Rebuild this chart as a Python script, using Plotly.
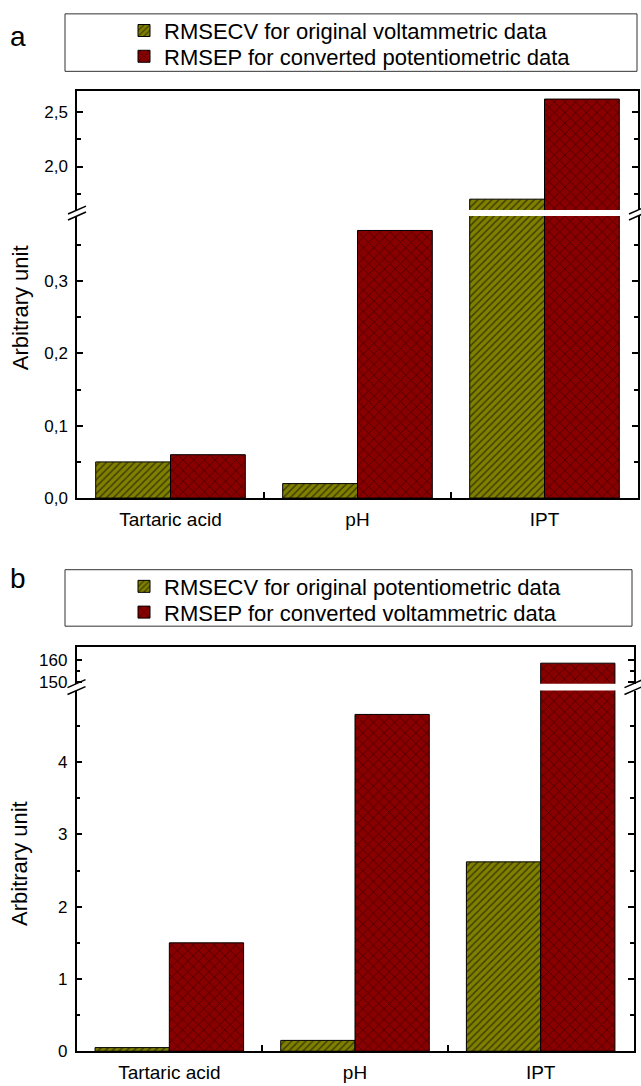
import plotly.graph_objects as go

categories = ["Tartaric acid", "pH", "IPT"]

# Panel a
a_rmsecv = [0.05, 0.02, 1.70]
a_rmsep = [0.06, 0.37, 2.62]
a_names = ["RMSECV for original voltammetric data", "RMSEP for converted potentiometric data"]

# Panel b
b_rmsecv = [0.05, 0.15, 2.62]
b_rmsep = [1.50, 4.66, 158.7]
b_names = ["RMSECV for original potentiometric data", "RMSEP for converted voltammetric data"]

W, H = 641, 1086
OLIVE = "#808000"
MAROON = "#880000"
FONT = "Liberation Sans, Arial, sans-serif"


def px(xp):
    return xp / W


def py(yp):
    return 1 - yp / H


fig = go.Figure()


def add_panel(vals1, vals2, names, xu, yu, xl, yl, legends):
    for vals, name, color, shape, size, sol, leg in [
        (vals1, names[0], OLIVE, "/", 5, 0.3, legends[0]),
        (vals2, names[1], MAROON, "x", 7.5, 0.18, legends[1]),
    ]:
        for xa, ya, show in [(xu, yu, False), (xl, yl, True)]:
            fig.add_trace(go.Bar(
                x=categories, y=vals, name=name, xaxis=xa, yaxis=ya,
                showlegend=show, legend=leg, legendgroup=leg,
                marker=dict(color=color, line=dict(color="black", width=1),
                            pattern=dict(shape=shape, size=size, solidity=sol,
                                         fgcolor="black", bgcolor=color,
                                         fillmode="overlay")),
            ))


add_panel(a_rmsecv, a_rmsep, a_names, "x", "y", "x2", "y2", ("legend", "legend2"))
add_panel(b_rmsecv, b_rmsep, b_names, "x3", "y3", "x4", "y4", ("legend3", "legend4"))

LW = 1.5
tickfont = dict(family=FONT, size=17, color="black")
common_y = dict(showline=True, linecolor="black", linewidth=LW, ticks="inside",
                ticklen=6, tickwidth=LW, tickcolor="black", mirror="ticks",
                showgrid=False, zeroline=False, tickfont=tickfont, tickformat=".1f",
                ticklabelstandoff=4)
common_x_top = dict(type="category", categoryarray=categories, range=[-0.5, 2.5],
                    side="top", showline=True, linecolor="black", linewidth=LW,
                    ticks="", showticklabels=False, showgrid=False, zeroline=False)
common_x_bot = dict(type="category", categoryarray=categories, range=[-0.5, 2.5],
                    side="bottom", showline=True, linecolor="black", linewidth=LW,
                    ticks="inside", ticklen=6, tickwidth=LW, tickcolor="black",
                    tickson="boundaries", showgrid=False, zeroline=False,
                    ticklabelstandoff=3,
                    tickfont=dict(family=FONT, size=19, color="black"))
tick_overlay = dict(type="linear", range=[-0.5, 2.5], side="top", showline=False,
                    tickvals=[0, 0.5, 1, 1.5, 2], ticks="inside", ticklen=6,
                    tickwidth=LW, tickcolor="black", showticklabels=False,
                    showgrid=False, zeroline=False)

# pixel geometry
A_L, A_R = 77, 638
A_UT, A_UB, A_LT, A_LB = 92.3, 212, 218, 502.7
B_L, B_R = 76.5, 633.5
B_UT, B_UB, B_LT, B_LB = 653.3, 690, 697, 1061

fig.update_layout(
    xaxis=dict(domain=[px(A_L), px(A_R)], anchor="y", **common_x_top),
    yaxis=dict(domain=[py(A_UB), py(A_UT)], anchor="x", range=[1.6, 2.69],
               dtick=0.5, tick0=0,
               minor=dict(dtick=0.25, ticks="inside", ticklen=4, tickwidth=LW, tickcolor="black"),
               **common_y),
    xaxis2=dict(domain=[px(A_L), px(A_R)], anchor="y2", **common_x_bot),
    yaxis2=dict(domain=[py(A_LB), py(A_LT)], anchor="x2", range=[0, 0.39],
                dtick=0.1, tick0=0,
                minor=dict(dtick=0.05, ticks="inside", ticklen=4, tickwidth=LW, tickcolor="black"),
                **common_y),
    xaxis3=dict(domain=[px(B_L), px(B_R)], anchor="y3", **common_x_top),
    yaxis3=dict(domain=[py(B_UB), py(B_UT)], anchor="x3", range=[149.3, 166],
                tickmode="array", tickvals=[150, 160],
                minor=dict(tickmode="array", tickvals=[155], ticks="inside", ticklen=4,
                           tickwidth=LW, tickcolor="black"),
                **{**common_y, "tickformat": "d"}),
    xaxis4=dict(domain=[px(B_L), px(B_R)], anchor="y4", **common_x_bot),
    yaxis4=dict(domain=[py(B_LB), py(B_LT)], anchor="x4", range=[0, 4.99],
                dtick=1, tick0=0,
                minor=dict(dtick=0.5, ticks="inside", ticklen=4, tickwidth=LW, tickcolor="black"),
                **{**common_y, "tickformat": "d"}),
    xaxis5=dict(overlaying="x", anchor="y", **tick_overlay),
    xaxis6=dict(overlaying="x3", anchor="y3", **tick_overlay),
)

legend_style = dict(xanchor="left", yanchor="middle", bgcolor="rgba(0,0,0,0)",
                    borderwidth=0, traceorder="normal", tracegroupgap=0,
                    font=dict(family=FONT, size=22, color="black"))
fig.update_layout(
    width=W, height=H, margin=dict(l=0, r=0, t=0, b=0),
    paper_bgcolor="white", plot_bgcolor="white",
    barmode="group", bargap=0.2, bargroupgap=0,
    separators=", ",
    font=dict(family=FONT, color="black"),
    legend=dict(x=px(124), y=py(31), **legend_style),
    legend2=dict(x=px(124), y=py(57), **legend_style),
    legend3=dict(x=px(124), y=py(592), **legend_style),
    legend4=dict(x=px(124), y=py(618), **legend_style),
)

# legend boxes
shapes = []
for (x0, y0, x1, y1) in [(65, 14, 637, 72), (65, 575, 632, 632)]:
    shapes.append(dict(type="rect", xref="paper", yref="paper",
                       x0=px(x0), x1=px(x1), y0=py(y0), y1=py(y1),
                       line=dict(color="#333333", width=1), fillcolor="rgba(0,0,0,0)"))

# axis break marks
for (xl, xr, yb_u, yb_l) in [(A_L, A_R, A_UB, A_LT), (B_L, B_R, B_UB, B_LT)]:
    for xc in (xl, xr):
        for yc in (yb_u, yb_l):
            shapes.append(dict(type="line", xref="paper", yref="paper",
                               x0=px(xc - 9), y0=py(yc + 4), x1=px(xc + 9), y1=py(yc - 4),
                               line=dict(color="black", width=LW)))
fig.update_layout(shapes=shapes)

ann_common = dict(xref="paper", yref="paper", showarrow=False,
                  xanchor="center", yanchor="middle")
annotations = [
    dict(text="a", x=px(18), y=py(37), font=dict(family=FONT, size=28, color="black"), **ann_common),
    dict(text="b", x=px(18), y=py(584), font=dict(family=FONT, size=28, color="black"), **ann_common),
    dict(text="Arbitrary unit", x=px(20), y=py(311), textangle=-90,
         font=dict(family=FONT, size=22, color="black"), **ann_common),
    dict(text="Arbitrary unit", x=px(20), y=py(872), textangle=-90,
         font=dict(family=FONT, size=22, color="black"), **ann_common),
]
fig.update_layout(annotations=annotations)

fig.write_html("out.html")
